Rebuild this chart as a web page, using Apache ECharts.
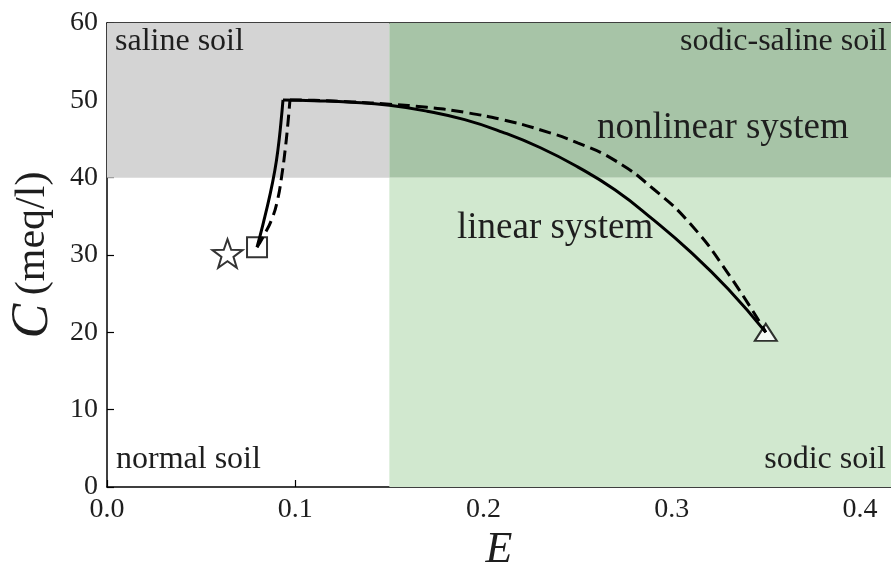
<!DOCTYPE html>
<html>
<head>
<meta charset="utf-8">
<script src="https://cdn.jsdelivr.net/npm/echarts@6/dist/echarts.min.js"></script>
<style>
html,body{margin:0;padding:0;background:#fff;}
#chart{width:891px;height:565px;}
</style>
</head>
<body>
<div id="chart"></div>
<script>
// ---- data ----
var xTicks = [0.0, 0.1, 0.2, 0.3, 0.4];
var yTicks = [0, 10, 20, 30, 40, 50, 60];
var xMax = 0.4165;
var boundaryE = 0.15;
var boundaryC = 40;

// linear system (solid): rising branch and falling branch
var linearRiseE = [0.0797, 0.0829, 0.0866, 0.0892, 0.0908, 0.0924, 0.0935];
var linearRiseC = [31.0, 34.0, 37.8, 41.0, 43.6, 47.1, 50.05];
var linearFallE = [0.0935, 0.11, 0.13, 0.15, 0.17, 0.19, 0.21, 0.23, 0.25, 0.27, 0.29, 0.31, 0.33, 0.35];
var linearFallC = [50.05, 49.95, 49.75, 49.35, 48.6, 47.5, 45.9, 43.9, 41.4, 38.4, 34.6, 30.4, 25.6, 20.0];

// nonlinear system (dashed): rising branch and falling branch
var nonlinearRiseE = [0.0797, 0.0835, 0.0875, 0.0905, 0.0928, 0.0947, 0.0961, 0.0972];
var nonlinearRiseC = [31.0, 32.6, 34.6, 37.0, 40.2, 43.7, 47.0, 50.05];
var nonlinearFallE = [0.0972, 0.11, 0.13, 0.15, 0.17, 0.19, 0.21, 0.23, 0.25, 0.27, 0.29, 0.31, 0.33, 0.35];
var nonlinearFallC = [50.05, 50.0, 49.8, 49.5, 49.1, 48.45, 47.5, 46.2, 44.5, 42.2, 38.6, 34.0, 27.6, 20.0];

var starPoint = [0.064, 30.2];
var squarePoint = [0.0797, 31.0];
var trianglePoint = [0.35, 20.0];

var regionLabels = ['saline soil', 'sodic-saline soil', 'normal soil', 'sodic soil'];
var curveLabels = ['nonlinear system', 'linear system'];

function zip(a, b) { return a.map(function (v, i) { return [v, b[i]]; }); }

var serif = "'Liberation Serif', 'DejaVu Serif', serif";
var txt = '#1e1e1e';
var starPath = 'path://M0,-10 L2.35,-3.24 L9.51,-3.09 L3.8,1.24 L5.88,8.09 L0,4 L-5.88,8.09 L-3.8,1.24 L-9.51,-3.09 L-2.35,-3.24 Z';
var solidStyle = {color: '#000', width: 3};
var dashStyle = {color: '#000', width: 3, type: [12, 6]};

var chart = echarts.init(document.getElementById('chart'), null, {renderer: 'canvas'});
var option = {
  animation: false,
  backgroundColor: '#fff',
  grid: {left: 107, top: 23, right: 0, bottom: 78, containLabel: false, outerBoundsMode: 'none'},
  xAxis: [{
    type: 'value', min: 0, max: xMax, interval: 0.1,
    name: 'E', nameLocation: 'middle', nameGap: 41,
    nameTextStyle: {fontFamily: serif, fontStyle: 'italic', fontSize: 44, color: txt},
    axisLine: {show: true, lineStyle: {color: '#000', width: 1.5}},
    axisTick: {show: true, inside: true, length: 7, lineStyle: {color: '#000', width: 1.2}},
    axisLabel: {fontFamily: serif, fontSize: 28, color: txt, margin: 9, showMaxLabel: false,
      formatter: function (v) { return v.toFixed(1); }},
    splitLine: {show: false}
  }, {
    type: 'value', position: 'top', min: 0, max: xMax, interval: 0.1,
    axisLine: {show: true, onZero: false, lineStyle: {color: '#000', width: 1.5}},
    axisTick: {show: true, inside: true, length: 7, lineStyle: {color: '#000', width: 1.2}},
    axisLabel: {show: false},
    splitLine: {show: false}
  }],
  yAxis: [{
    type: 'value', min: 0, max: 60, interval: 10,
    name: '{c|C}{s| }{u|(meq/l)}', nameLocation: 'middle', nameGap: 43, nameRotate: 90,
    nameTextStyle: {
      rich: {
        c: {fontFamily: serif, fontStyle: 'italic', fontSize: 52, color: txt},
        s: {fontFamily: serif, fontSize: 34, color: txt},
        u: {fontFamily: serif, fontSize: 42, color: txt}
      }
    },
    axisLine: {show: true, lineStyle: {color: '#000', width: 1.5}},
    axisTick: {show: true, inside: true, length: 7, lineStyle: {color: '#000', width: 1.2}},
    axisLabel: {fontFamily: serif, fontSize: 28, color: txt, margin: 9},
    splitLine: {show: false}
  }],
  series: [
    {
      type: 'line', data: [], silent: true,
      markArea: {
        silent: true,
        data: [
          [{xAxis: 0, yAxis: boundaryC, itemStyle: {color: '#d4d4d4'}}, {xAxis: boundaryE, yAxis: 60}],
          [{xAxis: boundaryE, yAxis: boundaryC, itemStyle: {color: '#a7c4a7'}}, {xAxis: xMax, yAxis: 60}],
          [{xAxis: boundaryE, yAxis: 0, itemStyle: {color: '#d1e8cf'}}, {xAxis: xMax, yAxis: boundaryC}]
        ]
      },
      z: 1
    },
    {type: 'line', data: zip(nonlinearRiseE, nonlinearRiseC), showSymbol: false, smooth: 0.5, lineStyle: dashStyle, z: 4},
    {type: 'line', data: zip(nonlinearFallE, nonlinearFallC), showSymbol: false, smooth: 0.5, lineStyle: dashStyle, z: 4},
    {type: 'line', data: zip(linearRiseE, linearRiseC), showSymbol: false, smooth: 0.5, lineStyle: solidStyle, z: 4},
    {type: 'line', data: zip(linearFallE, linearFallC), showSymbol: false, smooth: 0.5, lineStyle: solidStyle, z: 4},
    {
      type: 'scatter', data: [starPoint], symbol: starPath, symbolSize: 30, symbolKeepAspect: true,
      itemStyle: {color: '#fff', borderColor: '#000', borderWidth: 2}, z: 3
    },
    {
      type: 'scatter', data: [squarePoint], symbol: 'rect', symbolSize: 20,
      itemStyle: {color: 'rgba(0,0,0,0)', borderColor: '#000', borderWidth: 2}, z: 5
    },
    {
      type: 'scatter', data: [trianglePoint], symbol: 'triangle', symbolSize: [22, 17],
      itemStyle: {color: '#fff', borderColor: '#000', borderWidth: 2}, z: 3
    }
  ],
  graphic: [
    {type: 'text', style: {text: regionLabels[0], x: 115, y: 58, textVerticalAlign: 'bottom', textAlign: 'left', font: '32px ' + serif, fill: txt}, z: 10},
    {type: 'text', style: {text: regionLabels[1], x: 887, y: 58, textVerticalAlign: 'bottom', textAlign: 'right', font: '32px ' + serif, fill: txt}, z: 10},
    {type: 'text', style: {text: regionLabels[2], x: 116, y: 476, textVerticalAlign: 'bottom', textAlign: 'left', font: '32px ' + serif, fill: txt}, z: 10},
    {type: 'text', style: {text: regionLabels[3], x: 886, y: 476, textVerticalAlign: 'bottom', textAlign: 'right', font: '32px ' + serif, fill: txt}, z: 10},
    {type: 'text', style: {text: curveLabels[0], x: 597, y: 147, textVerticalAlign: 'bottom', textAlign: 'left', font: '37px ' + serif, fill: txt}, z: 10},
    {type: 'text', style: {text: curveLabels[1], x: 457, y: 247, textVerticalAlign: 'bottom', textAlign: 'left', font: '37px ' + serif, fill: txt}, z: 10}
  ]
};
chart.setOption(option);
</script>
</body>
</html>
